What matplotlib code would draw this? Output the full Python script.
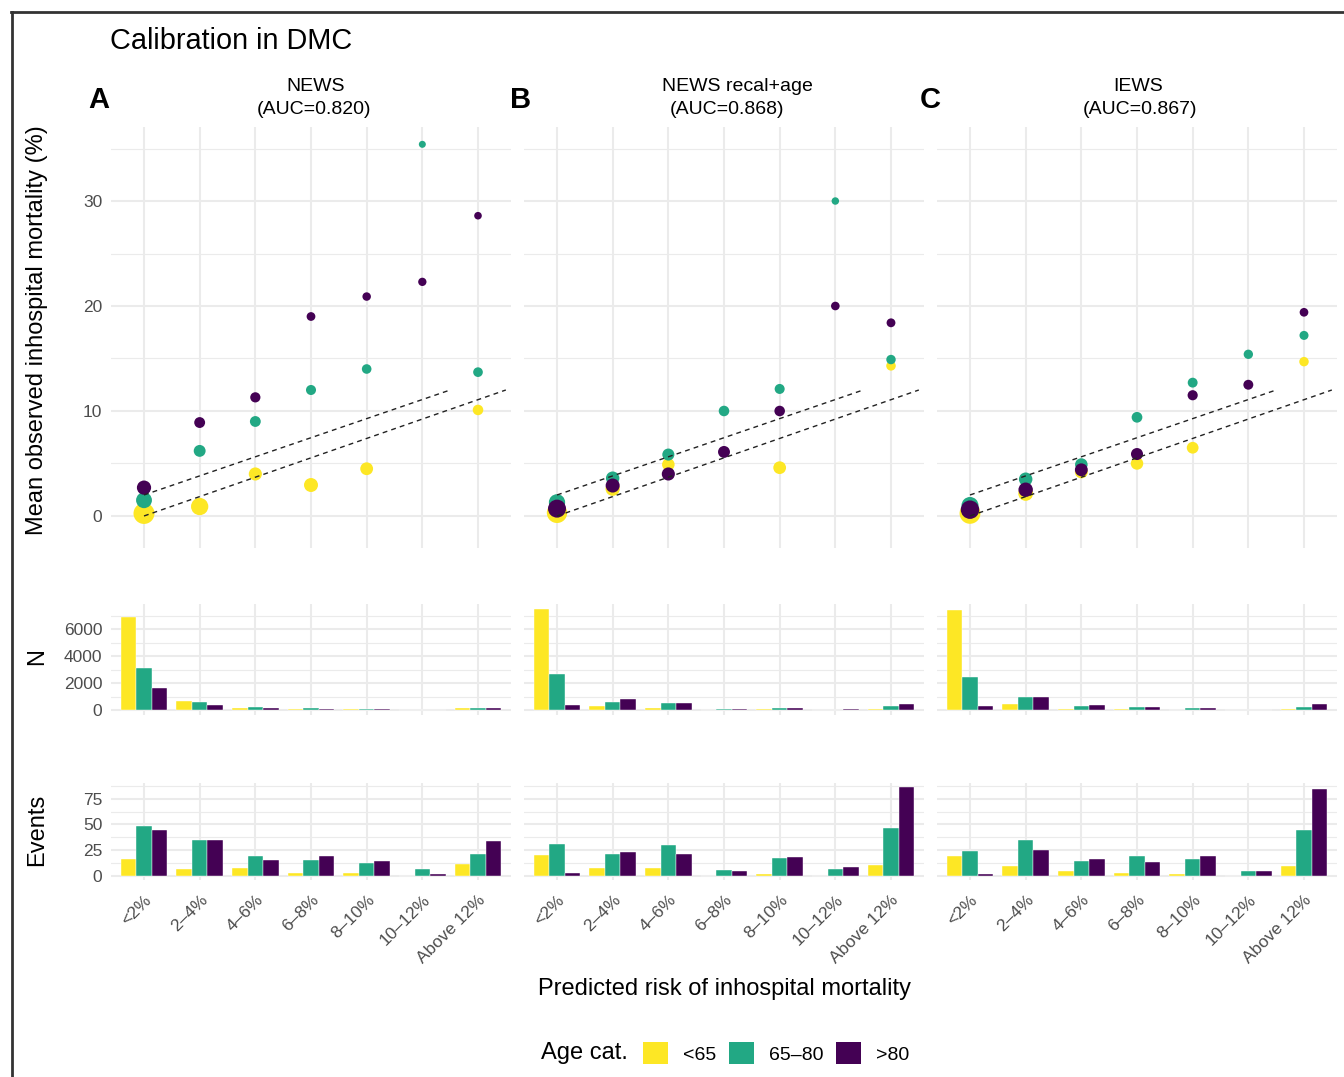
import numpy as np
import matplotlib
matplotlib.use("Agg")
import matplotlib.pyplot as plt
from matplotlib.patches import Patch
from matplotlib.lines import Line2D

plt.rcParams['font.family'] = ['Liberation Sans', 'DejaVu Sans']

nan = np.nan

categories = ["<2%", "2\u20134%", "4\u20136%", "6\u20138%", "8\u201310%", "10\u201312%", "Above 12%"]
age_groups = ["<65", "65\u201380", ">80"]
colors = ["#FDE725", "#22A884", "#440154"]

models = ["NEWS", "NEWS recal+age", "IEWS"]
aucs = ["0.820", "0.868", "0.867"]
letters = ["A", "B", "C"]

# mean observed inhospital mortality (%), one row per age group
rate_news = [[0.24, 0.9, 4.0, 2.95, 4.5, nan, 10.1],
             [1.5, 6.2, 9.0, 12.0, 14.0, 35.4, 13.7],
             [2.7, 8.9, 11.3, 19.0, 20.9, 22.3, 28.6]]
rate_recal = [[0.3, 2.6, 4.9, nan, 4.6, nan, 14.3],
              [1.3, 3.6, 5.85, 10.0, 12.1, 30.0, 14.9],
              [0.7, 2.9, 4.0, 6.1, 10.0, 20.0, 18.4]]
rate_iews = [[0.25, 2.15, 4.2, 5.0, 6.5, nan, 14.7],
             [1.0, 3.5, 4.9, 9.4, 12.7, 15.4, 17.2],
             [0.6, 2.5, 4.4, 5.9, 11.5, 12.5, 19.4]]

# number of patients
n_news = [[6925, 640, 170, 100, 65, 5, 110],
          [3125, 570, 210, 125, 85, 17, 155],
          [1650, 395, 135, 100, 65, 9, 120]]
n_recal = [[7500, 270, 140, 10, 45, 5, 70],
           [2675, 590, 500, 50, 140, 20, 300],
           [400, 800, 500, 60, 160, 40, 450]]
n_iews = [[7425, 420, 95, 60, 30, 2, 65],
          [2425, 1000, 285, 200, 125, 26, 255],
          [300, 1000, 365, 215, 160, 32, 430]]

# number of deaths
ev_news = [[16, 6, 7, 3, 3, 0, 11],
           [48, 35, 19, 15, 12, 6, 21],
           [44, 35, 15, 19, 14, 2, 34]]
ev_recal = [[20, 7, 7, 0, 2, 0, 10],
            [31, 21, 30, 5, 17, 6, 46],
            [3, 23, 21, 4, 18, 8, 86]]
ev_iews = [[19, 9, 4, 3, 2, 0, 9],
           [24, 35, 14, 19, 16, 4, 44],
           [2, 25, 16, 13, 19, 4, 84]]

# dashed reference band
band_lo_x, band_lo_y = [1, 7.5], [0, 12]
band_hi_x, band_hi_y = [1, 6.5], [2, 12]

rates = [rate_news, rate_recal, rate_iews]
counts = [n_news, n_recal, n_iews]
events = [ev_news, ev_recal, ev_iews]

W, H = 1344, 1077
fig = plt.figure(figsize=(W / 100, H / 100), dpi=100)


def box(l, t, r, b):
    return [l / W, 1 - b / H, (r - l) / W, (b - t) / H]


def fx(x):
    return x / W


def fy(y):
    return 1 - y / H


GRID = "#EBEBEB"
TICK = "#4D4D4D"


def style(ax, ymajor, yminor, ylim, left, bottom):
    for s in ax.spines.values():
        s.set_visible(False)
    ax.set_xlim(0.4, 7.6)
    ax.set_ylim(*ylim)
    ax.set_xticks(range(1, 8))
    ax.set_yticks(ymajor)
    ax.set_yticks(yminor, minor=True)
    ax.set_axisbelow(True)
    ax.grid(which='major', color=GRID, lw=1.5)
    ax.grid(which='minor', axis='y', color=GRID, lw=0.8)
    ax.tick_params(which='both', length=0, labelsize=12.5, colors=TICK, pad=6)
    ax.tick_params(labelleft=left, labelbottom=bottom)


def dot_size(rate):
    # points shrink as the observed rate grows
    r = np.maximum(np.asarray(rate, float), 0.1)
    d_px = np.clip(17.0 - 2.8 * np.log(r), 6.5, 22)
    return (d_px * 0.72) ** 2


lefts = [110.6, 523.6, 936.6]
pw = 400.8
xs = np.arange(1, 8)
bw = 0.28

for i in range(3):
    l = lefts[i]
    # calibration scatter
    ax = fig.add_axes(box(l, 127, l + pw, 548))
    style(ax, [0, 10, 20, 30], [5, 15, 25, 35], (-3.05, 37.05), i == 0, False)
    for g in range(3):
        ax.scatter(xs, rates[i][g], s=dot_size(rates[i][g]), color=colors[g],
                   linewidths=0, zorder=3)
    ax.plot(band_lo_x, band_lo_y, ls=(0, (3.5, 3)), color='#222222', lw=1.0, zorder=4)
    ax.plot(band_hi_x, band_hi_y, ls=(0, (3.5, 3)), color='#222222', lw=1.0, zorder=4)

    # N bars
    axn = fig.add_axes(box(l, 604, l + pw, 715))
    style(axn, [0, 2000, 4000, 6000], [1000, 3000, 5000, 7000], (-375, 7875), i == 0, False)
    for g in range(3):
        axn.bar(xs + (g - 1) * bw, counts[i][g], width=bw, color=colors[g],
                edgecolor='white', linewidth=0.3, zorder=3)

    # events bars
    axe = fig.add_axes(box(l, 783, l + pw, 880))
    style(axe, [0, 25, 50, 75], [12.5, 37.5, 62.5, 87.5], (-4.3, 90.3), i == 0, True)
    for g in range(3):
        axe.bar(xs + (g - 1) * bw, events[i][g], width=bw, color=colors[g],
                edgecolor='white', linewidth=0.3, zorder=3)
    axe.set_xticklabels(categories, rotation=45, ha='right', va='top',
                        rotation_mode='anchor')
    axe.tick_params(axis='x', pad=9)

    # panel titles and letters
    cx = l + pw / 2
    shift = [5, 13, 1][i]
    fig.text(fx(cx + shift), fy(91), models[i], ha='center', va='baseline', fontsize=14)
    fig.text(fx(cx + 3), fy(114), "(AUC=%s)" % aucs[i], ha='center', va='baseline', fontsize=14)
    fig.text(fx([88, 510, 920][i]), fy(108), letters[i], ha='left', va='baseline',
             fontsize=21, fontweight='bold')

fig.text(fx(110), fy(49), "Calibration in DMC", ha='left', va='baseline', fontsize=20.8)
fig.text(fx(37), fy(330), "Mean observed inhospital mortality (%)", rotation=90,
         ha='center', va='center', fontsize=17)
fig.text(fx(37), fy(657), "N", rotation=90, ha='center', va='center', fontsize=17)
fig.text(fx(37), fy(830), "Events", rotation=90, ha='center', va='center', fontsize=17)
fig.text(fx(725), fy(989), "Predicted risk of inhospital mortality", ha='center',
         va='center', fontsize=17)

# legend
fig.text(fx(541), fy(1053), "Age cat.", ha='left', va='center', fontsize=17)
handles = [Patch(facecolor=c, edgecolor='none') for c in colors]
fig.legend(handles, age_groups, loc='center left', bbox_to_anchor=(fx(643), fy(1053)),
           ncol=3, frameon=False, fontsize=14, handlelength=1.3, handleheight=1.3,
           handletextpad=0.75, columnspacing=0.65, borderpad=0, borderaxespad=0)

# frame around the figure
fig.add_artist(Line2D([fx(11.5), fx(11.5)], [fy(11.5), -0.1], color='#333333', lw=2))
fig.add_artist(Line2D([fx(10.5), 1.1], [fy(11.5), fy(11.5)], color='#333333', lw=2))

fig.savefig("out.png", dpi=100)
